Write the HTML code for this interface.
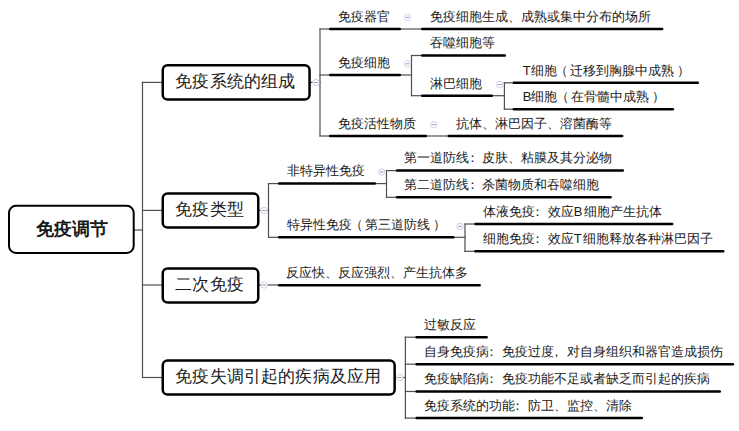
<!DOCTYPE html><html><head><meta charset="utf-8"><style>
html,body{margin:0;padding:0;background:#fff;width:739px;height:431px;overflow:hidden}
.t{position:absolute;white-space:nowrap;font-family:'Liberation Sans',sans-serif;color:#1a1a1a}
.s{font-size:13px;line-height:13px}
.m{font-size:17px;line-height:17px;letter-spacing:0.18px}
.r{font-size:18px;line-height:18px;font-weight:bold}
svg{position:absolute;left:0;top:0}
.lp{margin-left:-1.7px;margin-right:1.8px}.rp{margin-left:3.2px}.co{position:relative;left:-3.8px}.cm{position:relative;left:-4px}.la{margin-right:1.5px}
</style></head><body>
<svg width="739" height="431" viewBox="0 0 739 431">
<line x1="134" y1="230" x2="142.5" y2="230" stroke="#4f4f4f" stroke-width="1.2" stroke-linecap="square"/>
<line x1="142.5" y1="82.4" x2="162.5" y2="82.4" stroke="#4f4f4f" stroke-width="1.2" stroke-linecap="square"/>
<line x1="142.5" y1="210.4" x2="162.5" y2="210.4" stroke="#4f4f4f" stroke-width="1.2" stroke-linecap="square"/>
<line x1="142.5" y1="285" x2="162.5" y2="285" stroke="#4f4f4f" stroke-width="1.2" stroke-linecap="square"/>
<line x1="142.5" y1="377.5" x2="162.5" y2="377.5" stroke="#4f4f4f" stroke-width="1.2" stroke-linecap="square"/>
<line x1="310.8" y1="82.4" x2="320" y2="82.4" stroke="#4f4f4f" stroke-width="1.2" stroke-linecap="square"/>
<line x1="320" y1="29" x2="329" y2="29" stroke="#4f4f4f" stroke-width="1.2" stroke-linecap="square"/>
<line x1="320" y1="75" x2="329" y2="75" stroke="#4f4f4f" stroke-width="1.2" stroke-linecap="square"/>
<line x1="320" y1="136" x2="329" y2="136" stroke="#4f4f4f" stroke-width="1.2" stroke-linecap="square"/>
<line x1="401" y1="29" x2="421" y2="29" stroke="#4f4f4f" stroke-width="1.2" stroke-linecap="square"/>
<line x1="401" y1="75" x2="411.5" y2="75" stroke="#4f4f4f" stroke-width="1.2" stroke-linecap="square"/>
<line x1="411.5" y1="55.5" x2="421" y2="55.5" stroke="#4f4f4f" stroke-width="1.2" stroke-linecap="square"/>
<line x1="411.5" y1="95.7" x2="421" y2="95.7" stroke="#4f4f4f" stroke-width="1.2" stroke-linecap="square"/>
<line x1="493" y1="95.7" x2="504.4" y2="95.7" stroke="#4f4f4f" stroke-width="1.2" stroke-linecap="square"/>
<line x1="504.4" y1="82.8" x2="512.5" y2="82.8" stroke="#4f4f4f" stroke-width="1.2" stroke-linecap="square"/>
<line x1="504.4" y1="109.2" x2="512.5" y2="109.2" stroke="#4f4f4f" stroke-width="1.2" stroke-linecap="square"/>
<line x1="427" y1="136" x2="447.5" y2="136" stroke="#4f4f4f" stroke-width="1.2" stroke-linecap="square"/>
<line x1="259" y1="210.4" x2="268.5" y2="210.4" stroke="#4f4f4f" stroke-width="1.2" stroke-linecap="square"/>
<line x1="268.5" y1="183.6" x2="278" y2="183.6" stroke="#4f4f4f" stroke-width="1.2" stroke-linecap="square"/>
<line x1="268.5" y1="237.3" x2="278" y2="237.3" stroke="#4f4f4f" stroke-width="1.2" stroke-linecap="square"/>
<line x1="376" y1="183.6" x2="386.5" y2="183.6" stroke="#4f4f4f" stroke-width="1.2" stroke-linecap="square"/>
<line x1="386.5" y1="170.6" x2="395.8" y2="170.6" stroke="#4f4f4f" stroke-width="1.2" stroke-linecap="square"/>
<line x1="386.5" y1="197.3" x2="395.8" y2="197.3" stroke="#4f4f4f" stroke-width="1.2" stroke-linecap="square"/>
<line x1="454.7" y1="237.3" x2="465" y2="237.3" stroke="#4f4f4f" stroke-width="1.2" stroke-linecap="square"/>
<line x1="465" y1="224" x2="474.2" y2="224" stroke="#4f4f4f" stroke-width="1.2" stroke-linecap="square"/>
<line x1="465" y1="251.3" x2="474.2" y2="251.3" stroke="#4f4f4f" stroke-width="1.2" stroke-linecap="square"/>
<line x1="259" y1="285" x2="277.9" y2="285" stroke="#4f4f4f" stroke-width="1.2" stroke-linecap="square"/>
<line x1="394" y1="377.5" x2="405.4" y2="377.5" stroke="#4f4f4f" stroke-width="1.2" stroke-linecap="square"/>
<line x1="405.4" y1="337.2" x2="415.3" y2="337.2" stroke="#4f4f4f" stroke-width="1.2" stroke-linecap="square"/>
<line x1="405.4" y1="364.2" x2="415.3" y2="364.2" stroke="#4f4f4f" stroke-width="1.2" stroke-linecap="square"/>
<line x1="405.4" y1="391.5" x2="415.3" y2="391.5" stroke="#4f4f4f" stroke-width="1.2" stroke-linecap="square"/>
<line x1="405.4" y1="418.1" x2="415.3" y2="418.1" stroke="#4f4f4f" stroke-width="1.2" stroke-linecap="square"/>
<line x1="142.5" y1="82.4" x2="142.5" y2="377.5" stroke="#4f4f4f" stroke-width="1.2" stroke-linecap="square"/>
<line x1="320" y1="29" x2="320" y2="136" stroke="#4f4f4f" stroke-width="1.2" stroke-linecap="square"/>
<line x1="411.5" y1="55.5" x2="411.5" y2="95.7" stroke="#4f4f4f" stroke-width="1.2" stroke-linecap="square"/>
<line x1="504.4" y1="82.8" x2="504.4" y2="109.2" stroke="#4f4f4f" stroke-width="1.2" stroke-linecap="square"/>
<line x1="268.5" y1="183.6" x2="268.5" y2="237.3" stroke="#4f4f4f" stroke-width="1.2" stroke-linecap="square"/>
<line x1="386.5" y1="170.6" x2="386.5" y2="197.3" stroke="#4f4f4f" stroke-width="1.2" stroke-linecap="square"/>
<line x1="465" y1="224" x2="465" y2="251.3" stroke="#4f4f4f" stroke-width="1.2" stroke-linecap="square"/>
<line x1="405.4" y1="337.2" x2="405.4" y2="418.1" stroke="#4f4f4f" stroke-width="1.2" stroke-linecap="square"/>
<line x1="330.2" y1="29" x2="399.8" y2="29" stroke="#000" stroke-width="2.5" stroke-linecap="round"/>
<line x1="330.2" y1="75" x2="399.8" y2="75" stroke="#000" stroke-width="2.5" stroke-linecap="round"/>
<line x1="330.2" y1="136" x2="425.8" y2="136" stroke="#000" stroke-width="2.5" stroke-linecap="round"/>
<line x1="422.2" y1="29" x2="662.1" y2="29" stroke="#000" stroke-width="2.5" stroke-linecap="round"/>
<line x1="422.2" y1="55.5" x2="504.8" y2="55.5" stroke="#000" stroke-width="2.5" stroke-linecap="round"/>
<line x1="422.2" y1="95.7" x2="491.8" y2="95.7" stroke="#000" stroke-width="2.5" stroke-linecap="round"/>
<line x1="513.8" y1="82.8" x2="697.8" y2="82.8" stroke="#000" stroke-width="2.5" stroke-linecap="round"/>
<line x1="513.8" y1="109.2" x2="672.8" y2="109.2" stroke="#000" stroke-width="2.5" stroke-linecap="round"/>
<line x1="448.8" y1="136" x2="622.2" y2="136" stroke="#000" stroke-width="2.5" stroke-linecap="round"/>
<line x1="279.2" y1="183.6" x2="374.8" y2="183.6" stroke="#000" stroke-width="2.5" stroke-linecap="round"/>
<line x1="279.2" y1="237.3" x2="453.4" y2="237.3" stroke="#000" stroke-width="2.5" stroke-linecap="round"/>
<line x1="397.1" y1="170.6" x2="622.8" y2="170.6" stroke="#000" stroke-width="2.5" stroke-linecap="round"/>
<line x1="397.1" y1="197.3" x2="610.5" y2="197.3" stroke="#000" stroke-width="2.5" stroke-linecap="round"/>
<line x1="475.4" y1="224" x2="672.2" y2="224" stroke="#000" stroke-width="2.5" stroke-linecap="round"/>
<line x1="475.4" y1="251.3" x2="723.2" y2="251.3" stroke="#000" stroke-width="2.5" stroke-linecap="round"/>
<line x1="279.1" y1="285.2" x2="479.6" y2="285.2" stroke="#000" stroke-width="2.5" stroke-linecap="round"/>
<line x1="416.6" y1="337.2" x2="486.6" y2="337.2" stroke="#000" stroke-width="2.5" stroke-linecap="round"/>
<line x1="416.6" y1="364.2" x2="732.8" y2="364.2" stroke="#000" stroke-width="2.5" stroke-linecap="round"/>
<line x1="416.6" y1="391.5" x2="719.8" y2="391.5" stroke="#000" stroke-width="2.5" stroke-linecap="round"/>
<line x1="416.6" y1="418.1" x2="641.8" y2="418.1" stroke="#000" stroke-width="2.5" stroke-linecap="round"/>
<rect x="9.00" y="205.80" width="124.70" height="47.10" rx="7" fill="#fff" stroke="#000" stroke-width="2.0"/>
<rect x="162.75" y="65.35" width="146.80" height="34.10" rx="4.8" fill="#fff" stroke="#000" stroke-width="2.5"/>
<rect x="162.75" y="193.45" width="95.50" height="34.10" rx="4.8" fill="#fff" stroke="#000" stroke-width="2.5"/>
<rect x="162.75" y="268.45" width="95.50" height="34.10" rx="4.8" fill="#fff" stroke="#000" stroke-width="2.5"/>
<rect x="162.75" y="360.45" width="231.90" height="34.10" rx="4.8" fill="#fff" stroke="#000" stroke-width="2.5"/>
<circle cx="316" cy="82.5" r="3.2" fill="#fff" stroke="#cdd1e2" stroke-width="1"/>
<line x1="314.3" y1="82.5" x2="317.7" y2="82.5" stroke="#8d94b6" stroke-width="1"/>
<circle cx="264" cy="210.5" r="3.2" fill="#fff" stroke="#cdd1e2" stroke-width="1"/>
<line x1="262.3" y1="210.5" x2="265.7" y2="210.5" stroke="#8d94b6" stroke-width="1"/>
<circle cx="264.2" cy="285" r="3.2" fill="#fff" stroke="#cdd1e2" stroke-width="1"/>
<line x1="262.5" y1="285" x2="265.9" y2="285" stroke="#8d94b6" stroke-width="1"/>
<circle cx="399.8" cy="377.5" r="3.2" fill="#fff" stroke="#cdd1e2" stroke-width="1"/>
<line x1="398.1" y1="377.5" x2="401.5" y2="377.5" stroke="#8d94b6" stroke-width="1"/>
<circle cx="407.6" cy="17.4" r="3.2" fill="#fff" stroke="#cdd1e2" stroke-width="1"/>
<line x1="405.9" y1="17.4" x2="409.3" y2="17.4" stroke="#8d94b6" stroke-width="1"/>
<circle cx="407.6" cy="63.8" r="3.2" fill="#fff" stroke="#cdd1e2" stroke-width="1"/>
<line x1="405.9" y1="63.8" x2="409.3" y2="63.8" stroke="#8d94b6" stroke-width="1"/>
<circle cx="433.8" cy="124.6" r="3.2" fill="#fff" stroke="#cdd1e2" stroke-width="1"/>
<line x1="432.1" y1="124.6" x2="435.5" y2="124.6" stroke="#8d94b6" stroke-width="1"/>
<circle cx="499.7" cy="84.5" r="3.2" fill="#fff" stroke="#cdd1e2" stroke-width="1"/>
<line x1="498.0" y1="84.5" x2="501.4" y2="84.5" stroke="#8d94b6" stroke-width="1"/>
<circle cx="381.7" cy="172" r="3.2" fill="#fff" stroke="#cdd1e2" stroke-width="1"/>
<line x1="380.0" y1="172" x2="383.4" y2="172" stroke="#8d94b6" stroke-width="1"/>
<circle cx="460" cy="226.4" r="3.2" fill="#fff" stroke="#cdd1e2" stroke-width="1"/>
<line x1="458.3" y1="226.4" x2="461.7" y2="226.4" stroke="#8d94b6" stroke-width="1"/>
</svg>
<div class="t r" style="left:36px;top:220.0px">免疫调节</div>
<div class="t m" style="left:175.2px;top:73.0px">免疫系统的组成</div>
<div class="t m" style="left:175.2px;top:201.0px">免疫类型</div>
<div class="t m" style="left:175.2px;top:276.0px">二次免疫</div>
<div class="t m" style="left:175.2px;top:368.3px">免疫失调引起的疾病及应用</div>
<div class="t s" style="left:337.5px;top:9.8px">免疫器官</div>
<div class="t s" style="left:337.5px;top:55.8px">免疫细胞</div>
<div class="t s" style="left:337.5px;top:116.8px">免疫活性物质</div>
<div class="t s" style="left:429.5px;top:9.8px">免疫细胞生成、成熟或集中分布的场所</div>
<div class="t s" style="left:429.5px;top:36.3px">吞噬细胞等</div>
<div class="t s" style="left:429.5px;top:76.5px">淋巴细胞</div>
<div class="t s" style="left:522.8px;top:63.6px">T细胞<span class="lp">（</span>迁移到胸腺中成熟<span class="rp">）</span></div>
<div class="t s" style="left:522.8px;top:90.0px">B细胞<span class="lp">（</span>在骨髓中成熟<span class="rp">）</span></div>
<div class="t s" style="left:456.0px;top:116.8px">抗体、淋巴因子、溶菌酶等</div>
<div class="t s" style="left:286.5px;top:164.4px">非特异性免疫</div>
<div class="t s" style="left:286.5px;top:218.1px">特异性免疫<span class="lp">（</span>第三道防线<span class="rp">）</span></div>
<div class="t s" style="left:404.3px;top:151.4px">第一道防线<span class="co">：</span>皮肤、粘膜及其分泌物</div>
<div class="t s" style="left:404.3px;top:178.1px">第二道防线<span class="co">：</span>杀菌物质和吞噬细胞</div>
<div class="t s" style="left:482.7px;top:204.8px">体液免疫<span class="co">：</span>效应<span class="la">B</span>细胞产生抗体</div>
<div class="t s" style="left:482.7px;top:232.1px">细胞免疫<span class="co">：</span>效应<span class="la">T</span>细胞释放各种淋巴因子</div>
<div class="t s" style="left:286.4px;top:266.0px">反应快、反应强烈、产生抗体多</div>
<div class="t s" style="left:423.8px;top:318.0px">过敏反应</div>
<div class="t s" style="left:423.8px;top:345.0px">自身免疫病<span class="co">：</span>免疫过度<span class="cm">，</span>对自身组织和器官造成损伤</div>
<div class="t s" style="left:423.8px;top:372.3px">免疫缺陷病<span class="co">：</span>免疫功能不足或者缺乏而引起的疾病</div>
<div class="t s" style="left:423.8px;top:398.9px">免疫系统的功能<span class="co">：</span>防卫、监控、清除</div>
</body></html>
